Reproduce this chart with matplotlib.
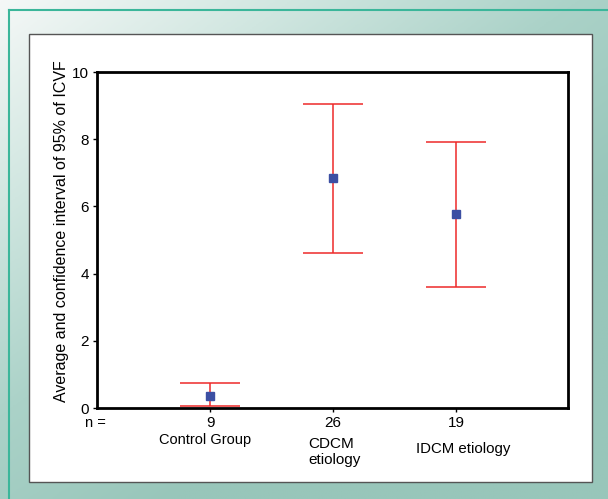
import matplotlib.pyplot as plt
import numpy as np
from matplotlib.colors import LinearSegmentedColormap
from matplotlib.patches import Rectangle

plt.rcParams['font.family'] = ['Liberation Sans', 'DejaVu Sans']

# data
groups = ["Control Group", "CDCM\netiology", "IDCM etiology"]
n_values = ["9", "26", "19"]
means = [0.36, 6.85, 5.77]
ci_low = [0.06, 4.61, 3.59]
ci_high = [0.75, 9.05, 7.92]

W, H = 608, 499
fig = plt.figure(figsize=(W / 100, H / 100), dpi=100)

# gradient background
bg = fig.add_axes([0, 0, 1, 1])
bg.set_axis_off()
xx, yy = np.meshgrid(np.linspace(0, 1, 300), np.linspace(0, 1, 300))
t = np.clip(0.7 * xx + 0.8 * yy, 0, 1)
cmap = LinearSegmentedColormap.from_list("bg", ["#f5f8f7", "#d0e6e0", "#abd2c8", "#98c6ba"])
bg.imshow(t, cmap=cmap, extent=[0, 1, 0, 1], origin="upper", aspect="auto")
bg.set_xlim(0, 1)
bg.set_ylim(0, 1)
# teal border lines left and top
bg.plot([8.5 / W, 8.5 / W], [0, 1 - 10 / H], color="#3bb69a", lw=1.5)
bg.plot([8.5 / W, 1], [1 - 10 / H, 1 - 10 / H], color="#3bb69a", lw=1.5)
# white panel
bg.add_patch(Rectangle((29 / W, 1 - 482 / H), 563 / W, 448 / H,
                       facecolor="white", edgecolor="#555555", lw=1.0))

ax = fig.add_axes([97 / W, 1 - 408 / H, 471 / W, 336 / H])
x = np.arange(1, len(groups) + 1)
yerr = [np.array(means) - np.array(ci_low), np.array(ci_high) - np.array(means)]
ax.errorbar(x, means, yerr=yerr, fmt="none", ecolor="#ee2a2a", elinewidth=1.1,
            capsize=21.5, capthick=1.1)
ax.plot(x, means, "s", color="#3c4fa3", markersize=6, zorder=3)

ax.set_xlim(0.08, 3.91)
ax.set_ylim(0, 10)
ax.set_yticks([0, 2, 4, 6, 8, 10])
ax.set_xticks(x)
ax.set_xticklabels(n_values)
ax.tick_params(axis="both", direction="out", length=3, width=1, labelsize=11, pad=3)
for s in ax.spines.values():
    s.set_linewidth(2)
ax.set_ylabel("Average and confidence interval of 95% of ICVF", fontsize=11.5)
ax.yaxis.set_label_coords(-0.06, 0.527)

ax.text(-0.026, -0.025, "n =", transform=ax.transAxes, ha="left", va="top", fontsize=10.5)
ax.text(x[0] - 0.04, -0.75, groups[0], ha="center", va="top", fontsize=10.5)
ax.text(x[1] - 0.2, -0.85, groups[1], ha="left", va="top", fontsize=11, linespacing=1.25)
ax.text(x[2] + 0.06, -1.0, groups[2], ha="center", va="top", fontsize=10.8)

fig.savefig("out.png", dpi=100)
